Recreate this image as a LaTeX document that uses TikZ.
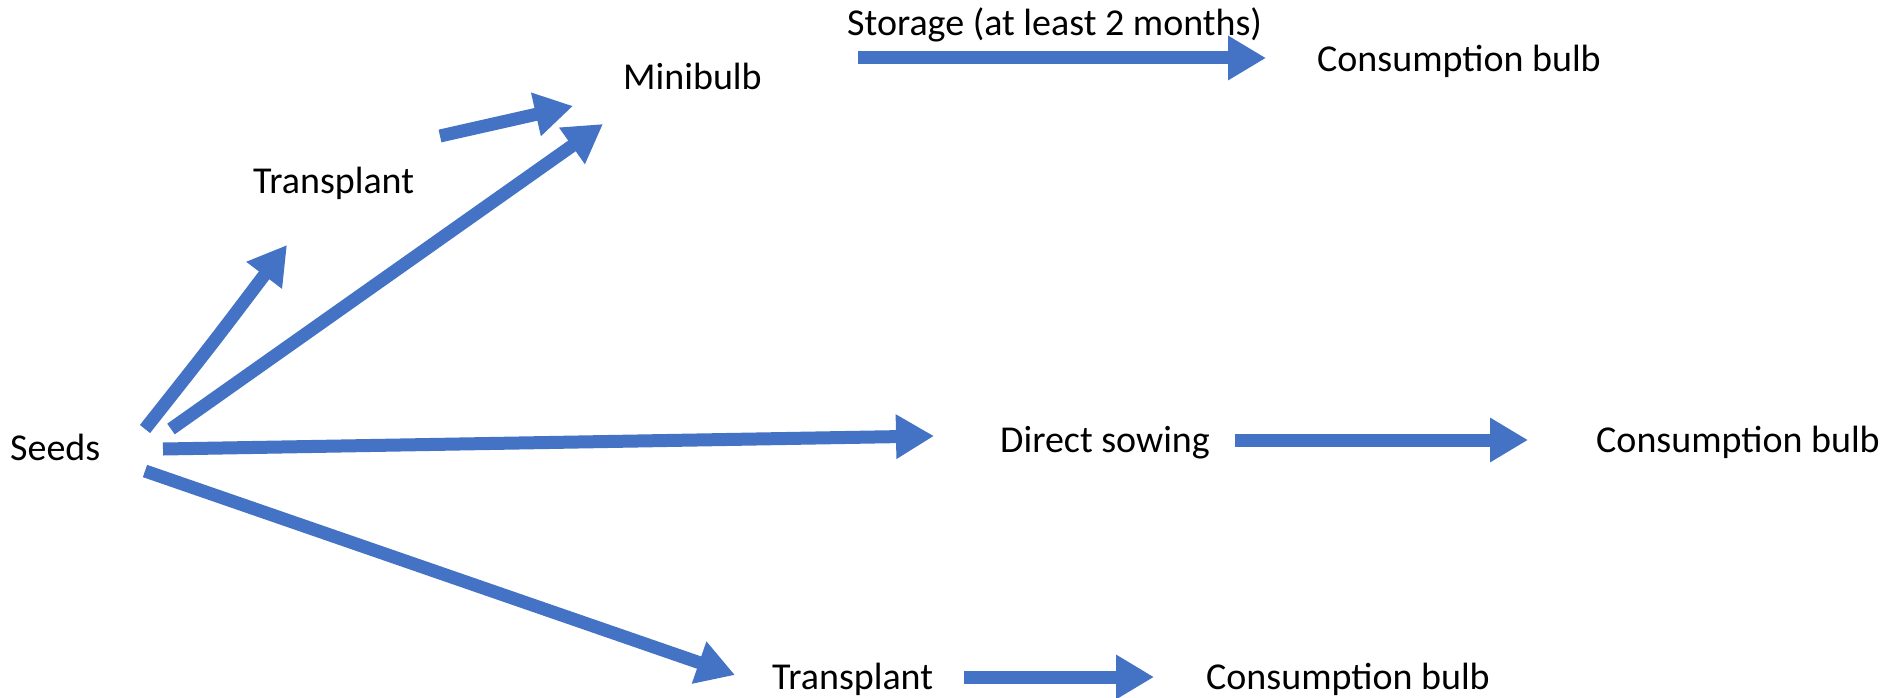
\documentclass[tikz,border=0pt]{standalone}
\usepackage{fontspec}
\setmainfont{Carlito}
\usetikzlibrary{arrows.meta}
\definecolor{arrblue}{HTML}{4472C4}
\begin{document}
\begin{tikzpicture}[x=1pt,y=-1pt,
  lbl/.style={anchor=base west,inner sep=0pt,font=\fontsize{38}{44}\selectfont},
  bigarrow/.style={draw=arrblue,line width=13pt,-{Triangle[length=38pt,width=42pt]}}]
\useasboundingbox[fill=white] (0,0) rectangle (1889,698);
% labels
\node[lbl] (seeds) at (10,460) {Seeds};
\node[lbl] (trup) at (253,193) {Transplant};
\node[lbl] (mini) at (623,90) {Minibulb};
\node[lbl] (stor) at (847,36) {Storage (at least 2 months)};
\node[lbl] (cb1) at (1317,72) {Consumption bulb};
\node[lbl] (direct) at (1000,452) {Direct sowing};
\node[lbl] (cb2) at (1596,452) {Consumption bulb};
\node[lbl] (trlow) at (772,689) {Transplant};
\node[lbl] (cb3) at (1206,689) {Consumption bulb};
% arrow end points
\coordinate (s1) at (145,429); \coordinate (t1) at (287,245);
\coordinate (s2) at (171,429); \coordinate (t2) at (603,124);
\coordinate (s3) at (440,136); \coordinate (t3) at (573,106);
\coordinate (s4) at (163,449); \coordinate (t4) at (934,436);
\coordinate (s5) at (145,471); \coordinate (t5) at (735,675);
\coordinate (s6) at (858,58);  \coordinate (t6) at (1266,58);
\coordinate (s7) at (1235,440); \coordinate (t7) at (1528,440);
\coordinate (s8) at (964,677); \coordinate (t8) at (1154,677);
% arrows
\draw[bigarrow] (s1) .. controls (213,343) .. (t1);
\draw[bigarrow] (s2) -- (t2);
\draw[bigarrow] (s3) -- (t3);
\draw[bigarrow] (s4) -- (t4);
\draw[bigarrow] (s5) -- (t5);
\draw[bigarrow] (s6) -- (t6);
\draw[bigarrow] (s7) -- (t7);
\draw[bigarrow] (s8) -- (t8);
\end{tikzpicture}
\end{document}
